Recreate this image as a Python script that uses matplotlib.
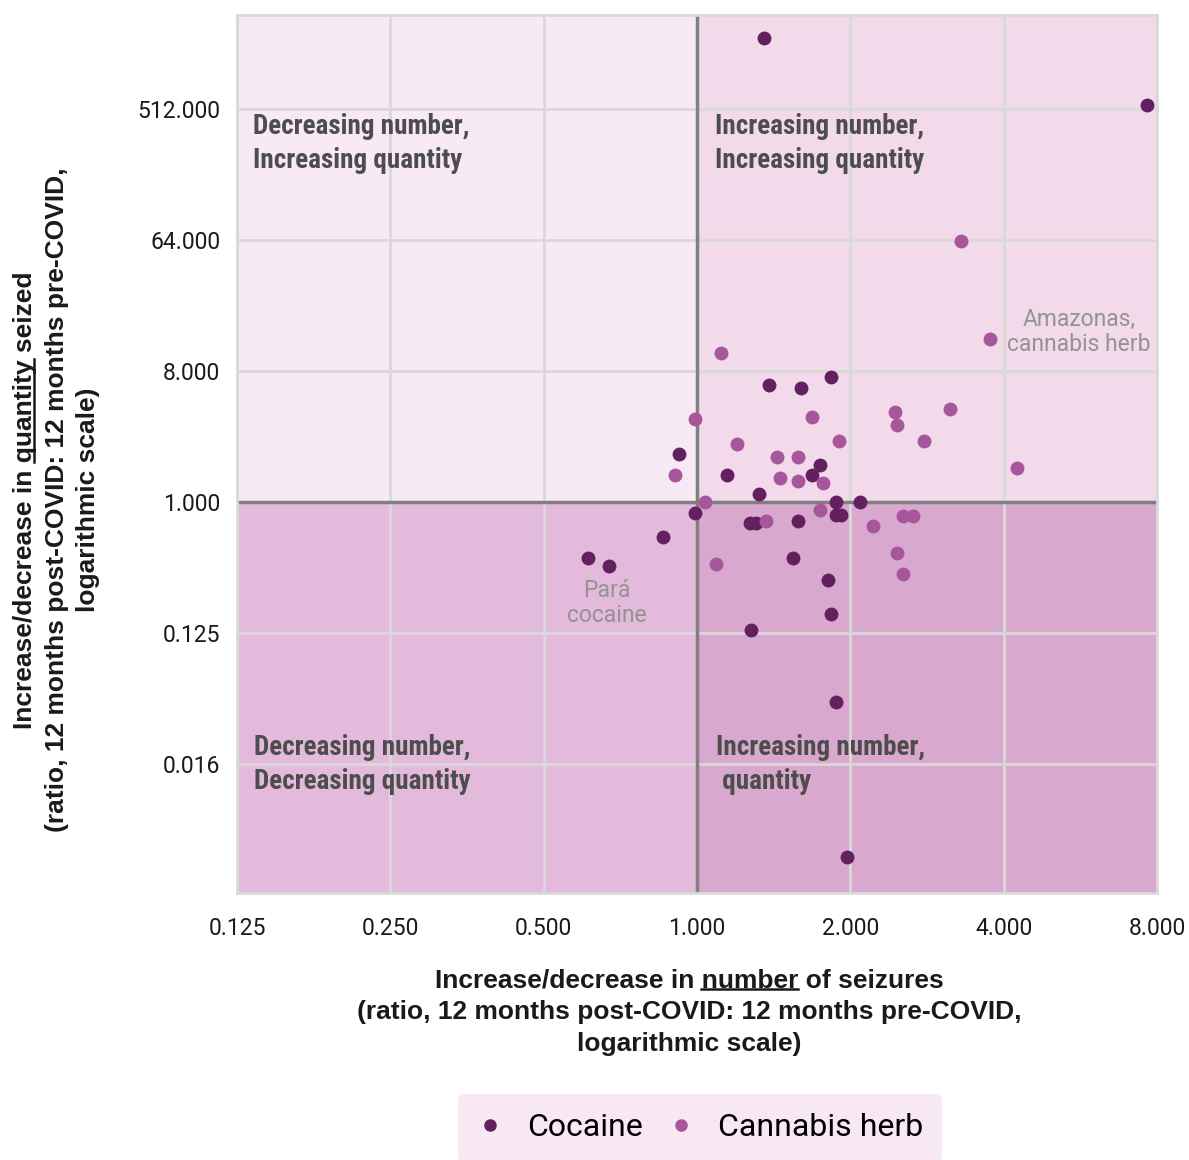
import matplotlib
matplotlib.use("Agg")
import matplotlib.pyplot as plt
from matplotlib.lines import Line2D
from matplotlib.patches import Rectangle

# ratio post-COVID : pre-COVID, number of seizures (x) and quantity seized (y)
cocaine_number = [1.351, 7.66, 1.383, 1.602, 1.829, 0.920, 1.742, 1.143, 1.683, 1.321,
                  1.873, 2.088, 0.989, 1.873, 1.919, 1.268, 1.307, 1.582, 0.856, 0.610,
                  0.672, 1.545, 1.806, 1.829, 1.274, 1.873, 1.966]
cocaine_quantity = [1570, 543, 6.40, 6.13, 7.30, 2.13, 1.80, 1.52, 1.53, 1.13,
                    0.995, 0.995, 0.840, 0.810, 0.810, 0.713, 0.713, 0.740, 0.574, 0.409,
                    0.361, 0.409, 0.291, 0.168, 0.131, 0.0418, 0.00358]
cannabis_number = [1.116, 1.680, 0.989, 1.199, 1.896, 1.437, 1.582, 0.907, 1.454, 1.582,
                   1.764, 1.038, 1.742, 1.369, 2.218, 1.089, 2.442, 3.145, 2.472, 2.788,
                   4.252, 2.533, 2.658, 2.472, 2.533, 3.291, 3.768]
cannabis_quantity = [10.58, 3.85, 3.71, 2.52, 2.63, 2.05, 2.05, 1.52, 1.46, 1.40,
                     1.34, 1.0, 0.877, 0.740, 0.680, 0.376, 4.19, 4.37, 3.39, 2.63,
                     1.72, 0.805, 0.805, 0.445, 0.318, 62.8, 13.27]

x_ticks = [0.125, 0.25, 0.5, 1, 2, 4, 8]
x_labels = ["0.125", "0.250", "0.500", "1.000", "2.000", "4.000", "8.000"]
y_ticks = [2**-9, 2**-6, 2**-3, 1, 8, 64, 512]
y_labels = ["0.002", "0.016", "0.125", "1.000", "8.000", "64.000", "512.000"]

series_names = ["Cocaine", "Cannabis herb"]
series_colors = ["#63205f", "#a8569c"]

W, H = 1189, 1160
fig = plt.figure(figsize=(W / 100, H / 100), dpi=100)
ax = fig.add_axes([237 / W, 1 - 893 / H, 920 / W, 878 / H])
ax.set_xscale("log", base=2)
ax.set_yscale("log", base=2)
xmin, xmax = 0.125, 8
ymin, ymax = 2**-8.95, 2**11.14
ax.set_xlim(xmin, xmax)
ax.set_ylim(ymin, ymax)

# quadrant backgrounds
quads = [((xmin, 1), (1, ymax), "#f8eaf4"),
         ((1, 1), (xmax, ymax), "#f2daeb"),
         ((xmin, ymin), (1, 1), "#e3badb"),
         ((1, ymin), (xmax, 1), "#d8a8ce")]
for (x0, y0), (x1, y1), c in quads:
    ax.add_patch(Rectangle((x0, y0), x1 - x0, y1 - y0, facecolor=c, edgecolor="none", zorder=0))

for xt in x_ticks:
    ax.axvline(xt, color="#d9d9d9", lw=2, zorder=1)
for yt in y_ticks:
    ax.axhline(yt, color="#d9d9d9", lw=2, zorder=1)
ax.axvline(1, color="#808080", lw=2.5, zorder=2)
ax.axhline(1, color="#808080", lw=2.5, zorder=2)

ax.scatter(cocaine_number, cocaine_quantity, s=100, color=series_colors[0], zorder=3, linewidths=0)
ax.scatter(cannabis_number, cannabis_quantity, s=100, color=series_colors[1], zorder=3, linewidths=0)

ax.xaxis.set_major_locator(plt.FixedLocator(x_ticks))
ax.xaxis.set_minor_locator(plt.NullLocator())
ax.yaxis.set_major_locator(plt.FixedLocator(y_ticks))
ax.yaxis.set_minor_locator(plt.NullLocator())
ax.set_xticklabels(x_labels, fontfamily="Roboto", fontsize=16.5, color="#1a1a1a")
ax.set_yticklabels(y_labels, fontfamily="Roboto", fontsize=16.5, color="#1a1a1a")
ax.tick_params(axis="x", length=0, pad=17)
ax.tick_params(axis="y", length=0, pad=12)
for sp in ax.spines.values():
    sp.set_color("#d9d9d9")
    sp.set_linewidth(2)

# quadrant captions
qfont = dict(fontfamily=["Roboto Condensed", "Liberation Sans Narrow", "DejaVu Sans"],
             fontweight="bold", fontsize=19.5, color="#4d4d4d", va="top", ha="left",
             linespacing=1.35)
fig.text(253 / W, 1 - 113 / H, "Decreasing number,\nIncreasing quantity", **qfont)
fig.text(715 / W, 1 - 113 / H, "Increasing number,\nIncreasing quantity", **qfont)
fig.text(254 / W, 1 - 734 / H, "Decreasing number,\nDecreasing quantity", **qfont)
fig.text(716 / W, 1 - 734 / H, "Increasing number,\n quantity", **qfont)

# callouts
nfont = dict(fontfamily="Roboto", fontsize=16.5, color="#939393",
             ha="center", va="center", linespacing=1.15)
fig.text(1079 / W, 1 - 332 / H, "Amazonas,\ncannabis herb", **nfont)
fig.text(607 / W, 1 - 603 / H, "Pará\ncocaine", **nfont)

# axis titles, drawn line by line so one word can be underlined
lfont = dict(fontfamily=["Liberation Sans", "DejaVu Sans"], fontweight="bold",
             fontsize=19, color="#1a1a1a", ha="center", va="center")
xl = ["Increase/decrease in number of seizures",
      "(ratio, 12 months post-COVID: 12 months pre-COVID,",
      "logarithmic scale)"]
yl = ["Increase/decrease in quantity seized",
      "(ratio, 12 months post-COVID: 12 months pre-COVID,",
      "logarithmic scale)"]
x_first = None
for i, (line, py) in enumerate(zip(xl, [980, 1012, 1044])):
    t = fig.text(689 / W, 1 - py / H, line, **lfont)
    if i == 0:
        x_first = t
y_first = None
for i, (line, px) in enumerate(zip(yl, [25, 57, 88])):
    t = fig.text(px / W, 1 - 500 / H, line, rotation=90, **lfont)
    if i == 0:
        y_first = t

renderer = fig.canvas.get_renderer()


def text_width(s):
    tmp = fig.text(0, 0, s, **lfont)
    w = tmp.get_window_extent(renderer).width
    tmp.remove()
    return w


def underline(t, prefix, word, vertical=False):
    bb = t.get_window_extent(renderer)
    end = text_width(prefix + word)
    start = end - text_width(word)
    if not vertical:
        y = bb.y0 + 3
        xs, ys = [bb.x0 + start, bb.x0 + end], [y, y]
    else:
        x = bb.x1 - 3
        xs, ys = [x, x], [bb.y0 + start, bb.y0 + end]
    fig.add_artist(Line2D([v / W for v in xs], [v / H for v in ys],
                          transform=fig.transFigure, color="#1a1a1a", lw=1.8))


underline(x_first, "Increase/decrease in ", "number")
underline(y_first, "Increase/decrease in ", "quantity", vertical=True)

# legend
handles = [Line2D([], [], marker="o", ls="none", color=c, markersize=8) for c in series_colors]
leg = fig.legend(handles, series_names, loc="center", bbox_to_anchor=(700 / W, 1 - 1128 / H),
                 ncol=2, frameon=True, fancybox=True, facecolor="#f8e8f3", edgecolor="none",
                 framealpha=1, prop={"family": "Roboto", "size": 23}, handlelength=0.8,
                 handletextpad=0.75, columnspacing=0.8, borderpad=0.6)

fig.savefig("out.png", dpi=100)
